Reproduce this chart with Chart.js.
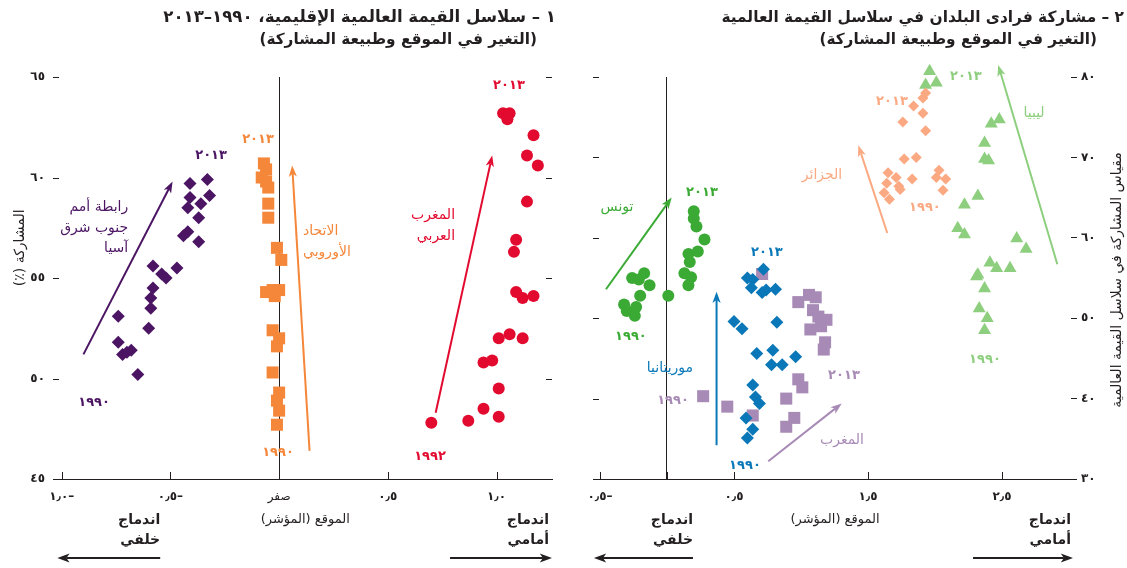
<!DOCTYPE html>
<html>
<head>
<meta charset="utf-8">
<script src="https://cdn.jsdelivr.net/npm/chart.js@4"></script>
<style>
  body { margin: 0; background: #fff; width: 1127px; height: 568px; position: relative; overflow: hidden;
         font-family: "DejaVu Sans", sans-serif; color: #231f20; }
  canvas { position: absolute; top: 0; }
  #leftChart { left: 0; }
  #rightChart { left: 563px; }
  .title { position: absolute; direction: rtl; white-space: nowrap; font-weight: bold; font-size: 15.3px;
           line-height: 18px; z-index: 2; }
</style>
</head>
<body>
<canvas id="leftChart" width="563" height="568" dir="rtl"></canvas>
<canvas id="rightChart" width="564" height="568" dir="rtl"></canvas>
<div class="title" style="right:571px; top:8px; font-size:16.6px;">١ – سلاسل القيمة العالمية الإقليمية، ١٩٩٠–٢٠١٣</div>
<div class="title" style="right:590px; top:30px;">(التغير في الموقع وطبيعة المشاركة)</div>
<div class="title" style="right:3px; top:8px; font-size:15.4px;">٢ – مشاركة فرادى البلدان في سلاسل القيمة العالمية</div>
<div class="title" style="right:30px; top:30px;">(التغير في الموقع وطبيعة المشاركة)</div>
<script>
// --- Panel 1: regional value chains ---
const leftXTicks = [-1, -0.5, 0, 0.5, 1];
const leftXLabels = ['–١٫٠', '–٠٫٥', 'صفر', '٠٫٥', '١٫٠'];
const leftYTicks = [45, 50, 55, 60, 65];
const leftYLabels = ['٤٥', '٥٠', '٥٥', '٦٠', '٦٥'];

const aseanX = [-0.33, -0.41, -0.32, -0.41, -0.36, -0.42, -0.37, -0.42, -0.44, -0.37, -0.58, -0.47, -0.54, -0.52, -0.58, -0.59, -0.59, -0.60, -0.74, -0.74, -0.68, -0.72, -0.70, -0.65];
const aseanY = [59.9, 59.7, 59.1, 59.0, 58.7, 58.5, 58.0, 57.3, 57.1, 56.8, 55.6, 55.5, 55.2, 55.0, 54.5, 54.0, 53.5, 52.5, 53.1, 51.8, 51.4, 51.2, 51.3, 50.2];

const euX = [-0.07, -0.06, -0.08, -0.06, -0.05, -0.05, -0.05, -0.01, 0.01, -0.06, -0.03, 0.00, -0.02, -0.03, 0.00, -0.01, -0.03, 0.00, -0.01, 0.00, -0.01];
const euY = [60.7, 60.4, 60.0, 59.8, 59.5, 58.7, 58.0, 56.5, 55.9, 54.3, 54.4, 54.4, 54.1, 52.4, 52.0, 51.6, 50.3, 49.3, 48.9, 48.4, 47.7];

const maghrebX = [1.03, 1.06, 1.05, 1.17, 1.14, 1.19, 1.14, 1.09, 1.08, 1.09, 1.12, 1.17, 1.06, 1.01, 1.12, 0.94, 0.98, 1.01, 0.94, 1.01, 0.87, 0.70];
const maghrebY = [63.2, 63.2, 62.9, 62.1, 61.1, 60.6, 58.8, 56.9, 56.3, 54.3, 54.0, 54.1, 52.2, 52.0, 52.0, 50.8, 50.9, 49.5, 48.5, 48.1, 47.9, 47.8];

// --- Panel 2: individual countries ---
const rightXTicks = [-0.5, 0, 0.5, 1.5, 2.5];
const rightXLabels = ['–٠٫٥', '', '٠٫٥', '١٫٥', '٢٫٥'];
const rightYTicks = [30, 40, 50, 60, 70, 80];
const rightYLabels = ['٣٠', '٤٠', '٥٠', '٦٠', '٧٠', '٨٠'];

const tunisiaX = [0.20, 0.20, 0.22, 0.28, 0.16, 0.23, 0.17, 0.13, 0.18, 0.16, 0.01, -0.26, -0.17, -0.21, -0.13, -0.20, -0.32, -0.23, -0.30, -0.24];
const tunisiaY = [63.3, 62.4, 61.4, 59.8, 58.0, 58.3, 57.0, 55.6, 55.1, 54.1, 52.8, 55.0, 55.6, 54.8, 54.1, 52.8, 51.7, 51.4, 50.9, 50.3];

const mauritaniaX = [0.72, 0.60, 0.64, 0.63, 0.71, 0.74, 0.81, 0.50, 0.56, 0.82, 0.67, 0.79, 0.78, 0.86, 0.96, 0.64, 0.66, 0.69, 0.59, 0.64, 0.60];
const mauritaniaY = [56.1, 55.0, 54.8, 53.8, 53.2, 53.5, 53.6, 49.6, 48.7, 49.5, 45.6, 46.0, 44.2, 44.2, 45.2, 41.7, 40.2, 39.4, 37.6, 36.2, 35.1];

const moroccoX = [0.71, 0.98, 1.06, 1.11, 1.09, 1.13, 1.19, 1.07, 1.15, 1.18, 1.17, 0.98, 1.01, 0.89, 0.95, 0.89, 0.64, 0.45, 0.27];
const moroccoY = [55.5, 52.0, 52.9, 52.6, 51.0, 50.2, 49.8, 48.6, 49.0, 47.0, 46.1, 42.4, 41.4, 40.0, 37.6, 36.5, 37.9, 39.0, 40.3];

const algeriaX = [1.93, 1.91, 1.84, 1.91, 1.76, 1.93, 1.77, 1.86, 1.65, 1.71, 1.83, 2.03, 2.01, 2.08, 1.64, 1.73, 1.74, 1.62, 1.66, 2.06];
const algeriaY = [78.0, 77.4, 76.4, 75.5, 74.4, 73.3, 69.8, 70.0, 68.1, 67.5, 67.3, 68.4, 67.5, 67.3, 66.8, 66.4, 66.0, 65.6, 64.8, 65.9];

const libyaX = [1.96, 1.93, 2.01, 2.48, 2.42, 2.37, 2.37, 2.40, 2.32, 2.22, 2.17, 2.22, 2.61, 2.68, 2.41, 2.46, 2.56, 2.32, 2.31, 2.37, 2.33, 2.39, 2.37];
const libyaY = [80.7, 79.0, 79.3, 74.7, 74.2, 71.8, 69.8, 69.6, 65.2, 64.1, 61.2, 60.4, 59.9, 58.6, 56.9, 56.2, 56.2, 55.4, 55.2, 53.7, 51.2, 50.0, 48.5];

const INK = '#231f20';
const FONT = '"DejaVu Sans", sans-serif';
const COLORS = {
    asean: '#4b1563', eu: '#f5873a', maghreb: '#e30a2f',
    tunisia: '#3aaa35', mauritania: '#0a78b8', morocco: '#a78ab5',
    algeria: '#fba982', libya: '#8dcf7e'
};

function pairs(xs, ys) {
    return xs.map((v, i) => ({ x: v, y: ys[i] }));
}

function series(xs, ys, color, style, radius) {
    return {
        data: pairs(xs, ys),
        backgroundColor: color,
        borderWidth: 0,
        pointStyle: style,
        pointRadius: radius,
        clip: false
    };
}

function drawArrow(ctx, x1, y1, x2, y2, color, width, head) {
    const a = Math.atan2(y2 - y1, x2 - x1);
    ctx.save();
    ctx.strokeStyle = color;
    ctx.fillStyle = color;
    ctx.lineWidth = width;
    ctx.beginPath();
    ctx.moveTo(x1, y1);
    ctx.lineTo(x2 - Math.cos(a) * head * 0.7, y2 - Math.sin(a) * head * 0.7);
    ctx.stroke();
    ctx.beginPath();
    ctx.moveTo(x2, y2);
    ctx.lineTo(x2 - head * Math.cos(a - 0.35), y2 - head * Math.sin(a - 0.35));
    ctx.lineTo(x2 - head * 0.7 * Math.cos(a), y2 - head * 0.7 * Math.sin(a));
    ctx.lineTo(x2 - head * Math.cos(a + 0.35), y2 - head * Math.sin(a + 0.35));
    ctx.closePath();
    ctx.fill();
    ctx.restore();
}

// arrows, labels, inner ticks and the rotated axis title
const notesPlugin = {
    id: 'notes',
    afterDraw(chart, args, opts) {
        const { ctx, chartArea: area, scales: { x, y } } = chart;
        ctx.save();
        ctx.strokeStyle = INK;
        ctx.lineWidth = 1;

        // small ticks pointing up from the x axis
        x.ticks.forEach(t => {
            const px = Math.round(x.getPixelForValue(t.value)) + 0.5;
            ctx.beginPath();
            ctx.moveTo(px, area.bottom);
            ctx.lineTo(px, area.bottom - 7);
            ctx.stroke();
        });

        // y ticks drawn by hand on the edges
        opts.sideTicks.forEach(side => {
            y.ticks.forEach(t => {
                const py = Math.round(y.getPixelForValue(t.value)) + 0.5;
                const sx = side === 'left' ? area.left : area.right;
                const dir = side === 'left' ? 1 : -1;
                ctx.beginPath();
                ctx.moveTo(sx, py);
                ctx.lineTo(sx + dir * 6, py);
                ctx.stroke();
            });
        });

        // rotated y title
        const t = opts.yTitle;
        ctx.save();
        ctx.translate(t.side === 'left' ? area.left + t.dx : area.right + t.dx, y.getPixelForValue(t.y));
        ctx.rotate(-Math.PI / 2);
        ctx.direction = 'rtl';
        ctx.textAlign = 'center';
        ctx.textBaseline = 'middle';
        ctx.fillStyle = INK;
        ctx.font = `14px ${FONT}`;
        ctx.fillText(t.text, 0, 0);
        ctx.restore();

        opts.arrows.forEach(a => {
            drawArrow(ctx,
                x.getPixelForValue(a.from[0]), y.getPixelForValue(a.from[1]),
                x.getPixelForValue(a.to[0]), y.getPixelForValue(a.to[1]),
                a.color, 2, 12);
        });

        opts.bottomArrows.forEach(a => {
            const py = area.bottom + a.dy;
            drawArrow(ctx, x.getPixelForValue(a.from), py, x.getPixelForValue(a.to), py, INK, 2, 13);
        });

        ctx.direction = 'rtl';
        ctx.textBaseline = 'middle';
        opts.labels.forEach(l => {
            ctx.fillStyle = l.color || INK;
            const bold = l.bold || l.year;
            ctx.font = `${bold ? 'bold ' : ''}${l.size || 13}px ${FONT}`;
            ctx.textAlign = l.align || 'center';
            ctx.letterSpacing = l.year ? '2px' : '0px';
            const px = x.getPixelForValue(l.at[0]);
            const py = l.dy !== undefined ? area.bottom + l.dy : y.getPixelForValue(l.at[1]);
            [].concat(l.text).forEach((line, i) => ctx.fillText(line, px, py + i * 20.5));
        });
        ctx.restore();
    }
};

function chartOptions(cfg) {
    return {
        responsive: false,
        animation: false,
        events: [],
        layout: { padding: cfg.padding },
        plugins: {
            legend: { display: false },
            tooltip: { enabled: false },
            notes: cfg.notes
        },
        scales: {
            x: {
                type: 'linear',
                min: cfg.xMin,
                max: cfg.xMax,
                afterBuildTicks: s => { s.ticks = cfg.xTicks.map(v => ({ value: v })); },
                afterFit: s => { s.height = 89; },
                ticks: {
                    callback: (v, i) => cfg.xLabels[i],
                    padding: 11,
                    color: INK,
                    maxRotation: 0,
                    autoSkip: false,
                    font: c => ({ family: FONT, size: 12, weight: c.tick && c.tick.value === 0 ? 'normal' : 'bold' })
                },
                grid: {
                    drawTicks: false,
                    lineWidth: 1,
                    color: c => (c.tick && c.tick.value === 0 ? INK : 'rgba(0,0,0,0)')
                },
                border: { display: true, color: INK, width: 1 }
            },
            y: {
                type: 'linear',
                position: cfg.yPos,
                min: cfg.yMin,
                max: cfg.yMax,
                afterBuildTicks: s => { s.ticks = cfg.yTicks.map(v => ({ value: v })); },
                afterFit: s => { s.width = cfg.yWidth; },
                ticks: {
                    callback: (v, i) => cfg.yLabels[i],
                    padding: cfg.yPad,
                    color: INK,
                    autoSkip: false,
                    font: { family: FONT, size: 12, weight: 'bold' }
                },
                grid: {
                    drawOnChartArea: false,
                    drawTicks: cfg.yPos === 'right',
                    tickLength: 6,
                    color: INK
                },
                border: { display: false }
            }
        }
    };
}

const leftNotes = {
    sideTicks: ['left', 'right'],
    yTitle: { side: 'left', dx: -33, y: 56.5, text: 'المشاركة (٪)' },
    arrows: [
        { from: [-0.90, 51.2], to: [-0.49, 59.8], color: COLORS.asean },
        { from: [0.14, 46.4], to: [0.06, 60.6], color: COLORS.eu },
        { from: [0.72, 48.3], to: [0.98, 61.1], color: COLORS.maghreb }
    ],
    bottomArrows: [
        { from: -0.547, to: -1.02, dy: 79 },
        { from: 0.786, to: 1.255, dy: 79 }
    ],
    labels: [
        { at: [-0.694, 58.5], text: ['رابطة أمم', 'جنوب شرق', 'آسيا'], color: COLORS.asean, align: 'right', size: 14 },
        { at: [-0.313, 61.1], text: '٢٠١٣', color: COLORS.asean, year: true },
        { at: [-0.851, 48.8], text: '١٩٩٠', color: COLORS.asean, year: true },
        { at: [0.11, 57.3], text: ['الاتحاد', 'الأوروبي'], color: COLORS.eu, align: 'left', size: 14 },
        { at: [-0.097, 61.9], text: '٢٠١٣', color: COLORS.eu, year: true },
        { at: [-0.005, 46.3], text: '١٩٩٠', color: COLORS.eu, year: true },
        { at: [0.809, 58.1], text: ['المغرب', 'العربي'], color: COLORS.maghreb, align: 'right', size: 14 },
        { at: [1.057, 64.55], text: '٢٠١٣', color: COLORS.maghreb, year: true },
        { at: [0.694, 46.1], text: '١٩٩٢', color: COLORS.maghreb, year: true },
        { at: [0.12, 0], dy: 41, text: 'الموقع (المؤشر)' },
        { at: [-0.547, 0], dy: 41, text: ['اندماج', 'خلفي'], bold: true, size: 14, align: 'right' },
        { at: [1.241, 0], dy: 41, text: ['اندماج', 'أمامي'], bold: true, size: 14, align: 'right' }
    ]
};

const rightNotes = {
    sideTicks: ['left'],
    yTitle: { side: 'right', dx: 46, y: 54.75, text: 'مقياس المشاركة في سلاسل القيمة العالمية' },
    arrows: [
        { from: [-0.455, 53.6], to: [0.035, 65.0], color: COLORS.tunisia },
        { from: [0.37, 34.2], to: [0.37, 53.3], color: COLORS.mauritania },
        { from: [0.756, 32.2], to: [1.304, 39.4], color: COLORS.morocco },
        { from: [1.644, 60.6], to: [1.428, 71.5], color: COLORS.algeria },
        { from: [2.913, 56.7], to: [2.472, 81.5], color: COLORS.libya }
    ],
    bottomArrows: [
        { from: 0.194, to: -0.545, dy: 79 },
        { from: 2.284, to: 3.03, dy: 79 }
    ],
    labels: [
        { at: [-0.373, 63.8], text: 'تونس', color: COLORS.tunisia, size: 14 },
        { at: [0.261, 65.6], text: '٢٠١٣', color: COLORS.tunisia, year: true },
        { at: [-0.269, 47.7], text: '١٩٩٠', color: COLORS.tunisia, year: true },
        { at: [0.022, 43.8], text: 'موريتانيا', color: COLORS.mauritania, size: 14 },
        { at: [0.746, 58.2], text: '٢٠١٣', color: COLORS.mauritania, year: true },
        { at: [0.582, 31.7], text: '١٩٩٠', color: COLORS.mauritania, year: true },
        { at: [1.306, 34.85], text: 'المغرب', color: COLORS.morocco, size: 14 },
        { at: [1.321, 42.9], text: '٢٠١٣', color: COLORS.morocco, year: true },
        { at: [0.045, 39.8], text: '١٩٩٠', color: COLORS.morocco, year: true },
        { at: [1.157, 67.8], text: 'الجزائر', color: COLORS.algeria, size: 14 },
        { at: [1.679, 76.9], text: '٢٠١٣', color: COLORS.algeria, year: true },
        { at: [1.925, 63.8], text: '١٩٩٠', color: COLORS.algeria, year: true },
        { at: [2.739, 75.5], text: 'ليبيا', color: COLORS.libya, size: 14 },
        { at: [2.231, 80.0], text: '٢٠١٣', color: COLORS.libya, year: true },
        { at: [2.373, 44.8], text: '١٩٩٠', color: COLORS.libya, year: true },
        { at: [1.254, 0], dy: 41, text: 'الموقع (المؤشر)' },
        { at: [0.194, 0], dy: 41, text: ['اندماج', 'خلفي'], bold: true, size: 14, align: 'right' },
        { at: [3.015, 0], dy: 41, text: ['اندماج', 'أمامي'], bold: true, size: 14, align: 'right' }
    ]
};

new Chart(document.getElementById('leftChart'), {
    type: 'scatter',
    data: {
        datasets: [
            series(aseanX, aseanY, COLORS.asean, 'rectRot', 6.5),
            series(euX, euY, COLORS.eu, 'rect', 8.5),
            series(maghrebX, maghrebY, COLORS.maghreb, 'circle', 6)
        ]
    },
    options: chartOptions({
        padding: { top: 77, right: 11, bottom: 0, left: 0 },
        xMin: -1.04, xMax: 1.255, xTicks: leftXTicks, xLabels: leftXLabels,
        yMin: 45, yMax: 65, yTicks: leftYTicks, yLabels: leftYLabels,
        yPos: 'left', yWidth: 53, yPad: 8,
        notes: leftNotes
    }),
    plugins: [notesPlugin]
});

new Chart(document.getElementById('rightChart'), {
    type: 'scatter',
    data: {
        datasets: [
            series(tunisiaX, tunisiaY, COLORS.tunisia, 'circle', 6),
            series(mauritaniaX, mauritaniaY, COLORS.mauritania, 'rectRot', 6.5),
            series(moroccoX, moroccoY, COLORS.morocco, 'rect', 8.5),
            series(algeriaX, algeriaY, COLORS.algeria, 'rectRot', 5.5),
            series(libyaX, libyaY, COLORS.libya, 'triangle', 7.5)
        ]
    },
    options: chartOptions({
        padding: { top: 77, right: 0, bottom: 0, left: 30 },
        xMin: -0.552, xMax: 3.015, xTicks: rightXTicks, xLabels: rightXLabels,
        yMin: 30, yMax: 80, yTicks: rightYTicks, yLabels: rightYLabels,
        yPos: 'right', yWidth: 56, yPad: 4,
        notes: rightNotes
    }),
    plugins: [notesPlugin]
});
</script>
</body>
</html>
